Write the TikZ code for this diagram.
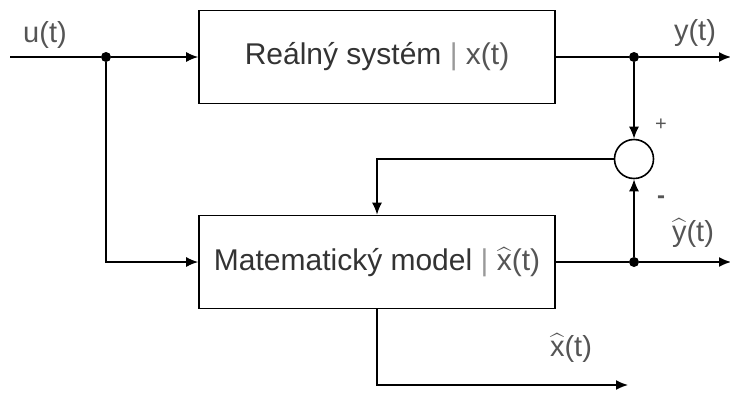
\documentclass[tikz,border=0pt]{standalone}
\usepackage{amsmath}
\usepackage{fontspec}
\setmainfont{Liberation Sans}
\usepackage{xcolor}
\usetikzlibrary{arrows.meta}
\definecolor{txtdark}{HTML}{333333}
\definecolor{txtgray}{HTML}{555555}
\definecolor{bargray}{HTML}{999999}
\newcommand{\hatsym}[1]{\ensuremath{\widehat{\text{#1}}}}
\tikzset{
  block/.style={draw,line width=1.6pt,minimum width=356pt,minimum height=93pt,
    text=txtdark,font=\fontsize{30}{36}\selectfont},
  sig/.style={line width=1.6pt,-{Latex[length=12pt,width=10pt]}},
  wire/.style={line width=1.6pt},
  lbl/.style={text=txtgray,font=\fontsize{29}{34}\selectfont},
  dot/.style={circle,fill=black,inner sep=0pt,minimum size=10pt}
}
\begin{document}
\begin{tikzpicture}[x=1pt,y=-1pt]
  \useasboundingbox (0,0) rectangle (730,394);
  % blocks
  \node[block] (real) at (377,57) {Reálný systém \textcolor{bargray}{|} \textcolor{txtgray}{x(t)}};
  \node[block] (model) at (377,262) {Matematický model \textcolor{bargray}{|} \textcolor{txtgray}{\hatsym{x}(t)}};
  \node[draw,circle,line width=1.6pt,minimum size=39pt,inner sep=0pt] (sum) at (634,159) {};
  % points
  \coordinate (in) at (10,57);
  \node[dot] (split) at (106,57) {};
  \coordinate (splitlow) at (106,262);
  \node[dot] (ydot) at (634,57) {};
  \coordinate (yout) at (731,57);
  \node[dot] (yhdot) at (634,262) {};
  \coordinate (yhout) at (731,262);
  \coordinate (fbk) at (377,159);
  \coordinate (xlow) at (377,385);
  \coordinate (xout) at (628,385);
  % connections
  \draw[wire] (in) -- (split);
  \draw[sig] (split) -- (real.west);
  \draw[sig] (split) -- (splitlow) -- (model.west);
  \draw[wire] (real.east) -- (ydot);
  \draw[sig] (ydot) -- (yout);
  \draw[sig] (ydot) -- (sum.north);
  \draw[wire] (model.east) -- (yhdot);
  \draw[sig] (yhdot) -- (yhout);
  \draw[sig] (yhdot) -- (sum.south);
  \draw[sig] (sum.west) -- (fbk) -- (model.north);
  \draw[sig] (model.south) -- (xlow) -- (xout);
  % labels
  \node[lbl] (ulbl) at (45,35) {u(t)};
  \node[lbl] (ylbl) at (695,33) {y(t)};
  \node[lbl] (yhlbl) at (693,233) {\hatsym{y}(t)};
  \node[lbl] (xhlbl) at (571,348) {\hatsym{x}(t)};
  \node[text=txtgray,font=\fontsize{20}{22}\selectfont] (plus) at (661,125) {+};
  \node[text=txtgray,font=\fontsize{24}{26}\selectfont\bfseries] (minus) at (661,200) {-};
\end{tikzpicture}
\end{document}
